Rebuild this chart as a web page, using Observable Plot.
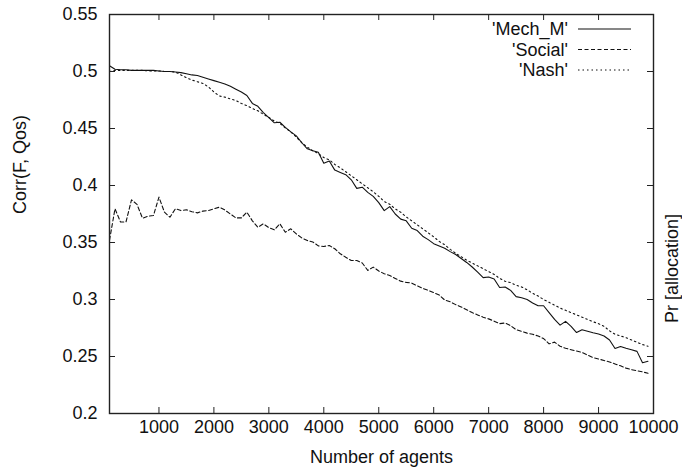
<!DOCTYPE html>
<html>
<head>
<meta charset="utf-8">
<script src="https://cdn.jsdelivr.net/npm/d3@7"></script>
<script src="https://cdn.jsdelivr.net/npm/@observablehq/plot@0.6"></script>
<style>
  html, body { margin: 0; padding: 0; background: white; }
</style>
</head>
<body>
<div id="chart"></div>
<script>
const agents = [
  100,200,300,400,500,600,700,800,900,1000,
  1100,1200,1300,1400,1500,1600,1700,1800,1900,2000,
  2100,2200,2300,2400,2500,2600,2700,2800,2900,3000,
  3100,3200,3300,3400,3500,3600,3700,3800,3900,4000,
  4100,4200,4300,4400,4500,4600,4700,4800,4900,5000,
  5100,5200,5300,5400,5500,5600,5700,5800,5900,6000,
  6100,6200,6300,6400,6500,6600,6700,6800,6900,7000,
  7100,7200,7300,7400,7500,7600,7700,7800,7900,8000,
  8100,8200,8300,8400,8500,8600,8700,8800,8900,9000,
  9100,9200,9300,9400,9500,9600,9700,9800,9900
];

const mechM = [
  0.505,0.502,0.5015,0.5015,0.501,0.501,0.501,0.501,0.501,0.5005,
  0.500,0.500,0.4995,0.499,0.498,0.497,0.4965,0.495,0.4935,0.492,
  0.4905,0.489,0.487,0.4845,0.482,0.479,0.472,0.4695,0.464,0.4595,
  0.455,0.4555,0.451,0.447,0.4435,0.4375,0.4322,0.4305,0.4292,0.4196,
  0.4215,0.4135,0.4115,0.4095,0.405,0.3975,0.3985,0.394,0.3905,0.385,
  0.378,0.3815,0.375,0.3705,0.369,0.3625,0.3605,0.3555,0.3525,0.349,
  0.347,0.345,0.342,0.3395,0.336,0.3325,0.3285,0.324,0.3192,0.3198,
  0.318,0.3105,0.311,0.308,0.3025,0.3015,0.300,0.297,0.2945,0.2945,
  0.2885,0.2825,0.2775,0.2808,0.2765,0.271,0.2735,0.2722,0.2708,0.2697,
  0.268,0.2645,0.257,0.2588,0.2572,0.256,0.2545,0.2445,0.2458
];

const social = [
  0.352,0.3796,0.368,0.368,0.3874,0.3835,0.3713,0.373,0.3737,0.3898,
  0.3766,0.3722,0.3796,0.378,0.3787,0.377,0.376,0.3775,0.378,0.3795,
  0.381,0.3785,0.375,0.3716,0.3716,0.3766,0.369,0.3634,0.3664,0.363,
  0.3611,0.3664,0.359,0.362,0.3575,0.354,0.3517,0.3505,0.347,0.3465,
  0.3474,0.3445,0.3401,0.337,0.3342,0.3342,0.332,0.3255,0.3284,0.325,
  0.3226,0.321,0.3185,0.3161,0.315,0.3144,0.312,0.3098,0.308,0.306,
  0.304,0.2995,0.298,0.2955,0.2935,0.291,0.2885,0.2865,0.2845,0.283,
  0.281,0.2788,0.2794,0.277,0.2735,0.272,0.2705,0.2695,0.268,0.2657,
  0.2611,0.2626,0.259,0.2572,0.256,0.2548,0.2535,0.2512,0.249,0.2478,
  0.2465,0.2452,0.2435,0.2418,0.2398,0.2385,0.2375,0.2365,0.2353
];

const nash = [
  0.500,0.501,0.501,0.501,0.501,0.501,0.501,0.5005,0.5005,0.5005,
  0.500,0.500,0.4995,0.497,0.4945,0.4925,0.491,0.4895,0.4865,0.482,
  0.4785,0.4775,0.476,0.4745,0.472,0.470,0.4675,0.4655,0.4625,0.4597,
  0.4565,0.4545,0.4505,0.447,0.4425,0.4375,0.4336,0.4305,0.428,0.4245,
  0.4225,0.4185,0.4155,0.412,0.4085,0.405,0.4015,0.398,0.3945,0.3905,
  0.386,0.3835,0.3795,0.3765,0.3725,0.369,0.3655,0.362,0.3585,0.355,
  0.351,0.348,0.344,0.3405,0.3375,0.3345,0.332,0.3295,0.327,0.3245,
  0.322,0.3185,0.316,0.3148,0.3125,0.311,0.3085,0.3055,0.303,0.300,
  0.2975,0.295,0.2925,0.2905,0.2885,0.2865,0.2845,0.2825,0.2805,0.2788,
  0.2765,0.2725,0.2695,0.268,0.2665,0.2645,0.2625,0.2605,0.259
];

const seriesNames = ["'Mech_M'", "'Social'", "'Nash'"];
const seriesDash = [null, "4,2.5", "1.5,3"];
const xTicks = [1000,2000,3000,4000,5000,6000,7000,8000,9000,10000];
const xTickLabels = ["1000","2000","3000","4000","5000","6000","7000","8000","9000","10000"];
const yTicks = [0.2,0.25,0.3,0.35,0.4,0.45,0.5,0.55];
const yTickLabels = ["0.2","0.25","0.3","0.35","0.4","0.45","0.5","0.55"];
const xTitle = "Number of agents";
const yTitle = "Corr(F, Qos)";
const y2Title = "Pr [allocation]";

const seriesValues = [mechM, social, nash];
const rows = seriesNames.map((name, s) => agents.map((a, i) => ({agents: a, value: seriesValues[s][i], series: name})));

const W = 682, H = 474, ML = 109, MR = 29, MT = 14, MB = 61;
const innerW = W - ML - MR, innerH = H - MT - MB;
const tick = 6;
const font = "'Liberation Sans', Arial, Helvetica, sans-serif";

const chart = Plot.plot({
  width: W, height: H,
  marginLeft: ML, marginRight: MR, marginTop: MT, marginBottom: MB,
  x: {domain: [100, 10000], axis: null},
  y: {domain: [0.2, 0.55], axis: null},
  style: {fontFamily: font, fontSize: "18px", background: "white", color: "black", overflow: "visible"},
  marks: [
    ...rows.map((r, s) => Plot.line(r, {
      x: "agents", y: "value", stroke: "#111", strokeWidth: 1.1,
      strokeDasharray: seriesDash[s], strokeLinejoin: "round"
    })),
    Plot.tickX(xTicks, {x: d => d, insetTop: innerH - tick, stroke: "#222", strokeWidth: 1}),
    Plot.tickX(xTicks, {x: d => d, insetBottom: innerH - tick, stroke: "#222", strokeWidth: 1}),
    Plot.tickY(yTicks, {y: d => d, insetRight: innerW - tick, stroke: "#222", strokeWidth: 1}),
    Plot.tickY(yTicks, {y: d => d, insetLeft: innerW - tick, stroke: "#222", strokeWidth: 1}),
    Plot.frame({stroke: "#222", strokeWidth: 1.4}),
    Plot.text(xTicks, {x: d => d, text: (d, i) => xTickLabels[i], frameAnchor: "bottom", dy: 19, fontSize: 18, fill: "#111"}),
    Plot.text(yTicks, {y: d => d, text: (d, i) => yTickLabels[i], frameAnchor: "left", dx: -12, textAnchor: "end", fontSize: 18, fill: "#111"}),
    Plot.text([xTitle], {frameAnchor: "bottom", dy: 49, fontSize: 18, fill: "#111"}),
    Plot.text([yTitle], {frameAnchor: "left", dx: -89, rotate: -90, fontSize: 18, fill: "#111"}),
    Plot.text([y2Title], {frameAnchor: "right", dx: 19, rotate: -90, fontSize: 18, fill: "#111"})
  ]
});

// Legend (gnuplot-style key, top right inside the frame)
const svg = d3.select(chart);
const key = svg.append("g").attr("font-family", font).attr("font-size", 18);
const keyTextX = 568, keyLineX1 = 578, keyLineX2 = 631, keyY0 = 29, keyStep = 20.5;
seriesNames.forEach((name, i) => {
  const y = keyY0 + i * keyStep;
  key.append("text").attr("x", keyTextX).attr("y", y).attr("dy", "0.35em")
    .attr("text-anchor", "end").attr("fill", "#111").text(name);
  key.append("line").attr("x1", keyLineX1).attr("x2", keyLineX2).attr("y1", y).attr("y2", y)
    .attr("stroke", "#111").attr("stroke-width", 1.1)
    .attr("stroke-dasharray", seriesDash[i]);
});

document.getElementById("chart").appendChild(chart);
</script>
</body>
</html>
